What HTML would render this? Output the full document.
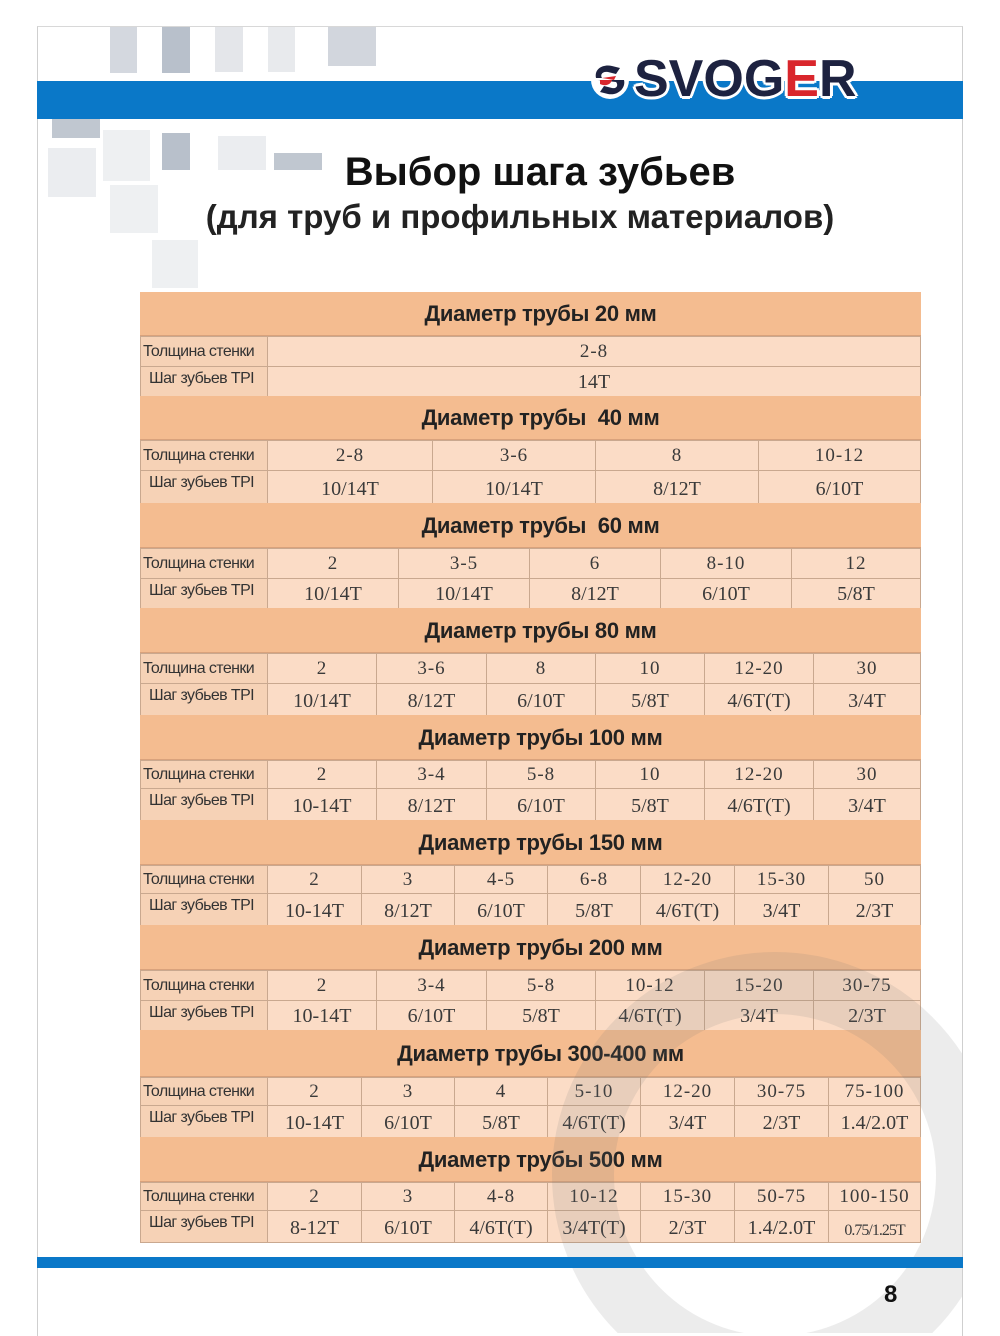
<!DOCTYPE html>
<html><head><meta charset="utf-8">
<style>
*{margin:0;padding:0;box-sizing:border-box}
body{width:1000px;height:1333px;background:#fff;position:relative;overflow:hidden;font-family:"Liberation Sans","DejaVu Sans",sans-serif}
.a{position:absolute}
.sq{position:absolute}
.sec{position:absolute;left:140px;width:781px}
.hd{background:#f4bc90;text-align:center;font-weight:bold;font-size:22px;color:#222;border-bottom:1px solid #d9a27c;padding-left:20px;letter-spacing:-0.3px}
table{border-collapse:collapse;table-layout:fixed;width:781px}
td{border:1px solid #c9a88f;background:#fbdcc6;text-align:center;font-family:"Liberation Serif",serif;font-size:19px;color:#3a3a3a;padding:0;white-space:nowrap;overflow:hidden}
tr.r1 td{vertical-align:middle;letter-spacing:1px}
tr.r2 td{vertical-align:bottom;padding-bottom:2px;font-size:20px}
table tr td.l{background:#f6d2b6;font-family:"Liberation Sans",sans-serif;font-size:16px;color:#333;text-align:left;padding-left:2px;letter-spacing:-0.6px;vertical-align:middle}
table tr.r2 td.l{vertical-align:top;padding-top:3px;padding-left:8px;font-size:16px;padding-bottom:0}
</style></head><body>
<div class="a" style="left:37px;top:26px;width:926px;height:1310px;border-left:1px solid #cfcfcf;border-top:1px solid #d8d8d8;border-right:1px solid #cfcfcf"></div>
<div class="sq" style="left:110px;top:27px;width:27px;height:46px;background:#d4d8df"></div>
<div class="sq" style="left:162px;top:27px;width:28px;height:46px;background:#b8c0cb"></div>
<div class="sq" style="left:215px;top:27px;width:28px;height:45px;background:#e4e6ea"></div>
<div class="sq" style="left:268px;top:27px;width:27px;height:45px;background:#e8eaed"></div>
<div class="sq" style="left:328px;top:27px;width:48px;height:39px;background:#d2d6dd"></div>
<div class="sq" style="left:52px;top:119px;width:48px;height:19px;background:#c0c7d0"></div>
<div class="sq" style="left:103px;top:130px;width:47px;height:51px;background:#eef0f2"></div>
<div class="sq" style="left:162px;top:133px;width:28px;height:37px;background:#b8c0cb"></div>
<div class="sq" style="left:218px;top:136px;width:48px;height:34px;background:#ebedf0"></div>
<div class="sq" style="left:274px;top:153px;width:48px;height:17px;background:#c0c7d0"></div>
<div class="sq" style="left:48px;top:148px;width:48px;height:49px;background:#ebedf0"></div>
<div class="sq" style="left:110px;top:185px;width:48px;height:48px;background:#eef0f2"></div>
<div class="sq" style="left:152px;top:240px;width:46px;height:48px;background:#eef0f2"></div>
<div class="a" style="left:37px;top:81px;width:926px;height:38px;background:#0a78c8"></div>
<svg class="a" style="left:590px;top:58px" width="40" height="44" viewBox="0 0 40 44">
<circle cx="20" cy="22" r="19" fill="#fff"/>
<path d="M6 20 C4 10 14 6 22 8 L30 10 L26 16 L18 14 C12 13 10 17 12 20 Z" fill="#1d2240"/>
<path d="M8 22 L34 22 C36 30 28 38 18 36 L10 34 L14 28 L22 30 C28 31 28 26 26 24 Z" fill="#1d2240"/>
<path d="M12 20 L26 18 L24 22 Z" fill="#d9262c"/>
<path d="M10 22 L22 22 C20 28 14 28 10 26 Z" fill="#d9262c"/>
</svg>
<div class="a" style="left:634px;top:50px;font-size:52px;font-weight:bold;color:#1d2240;line-height:58px;letter-spacing:0px;text-shadow:3px 0 #fff,-3px 0 #fff,0 3px #fff,0 -3px #fff,2px 2px #fff,-2px -2px #fff,2px -2px #fff,-2px 2px #fff">SVOG<span style="color:#d9262c">E</span>R</div>
<div class="a" style="left:0;top:150px;width:1080px;text-align:center;font-size:40px;font-weight:bold;color:#111">Выбор шага зубьев</div>
<div class="a" style="left:0;top:198px;width:1040px;text-align:center;font-size:33px;font-weight:bold;color:#222">(для труб и профильных материалов)</div>

<div class="sec" style="top:292px">
<div class="hd" style="height:44px;line-height:44px">Диаметр трубы 20 мм</div>
<table><col style="width:127px"><col>
<tr class="r1" style="height:30px"><td class="l">Толщина стенки</td><td>2-8</td></tr>
<tr class="r2" style="height:30px"><td class="l">Шаг зубьев TPI</td><td>14T</td></tr></table></div>
<div class="sec" style="top:396px">
<div class="hd" style="height:44px;line-height:44px">Диаметр трубы&nbsp; 40 мм</div>
<table><col style="width:127px"><col style="width:165px"><col style="width:163px"><col style="width:163px"><col>
<tr class="r1" style="height:30px"><td class="l">Толщина стенки</td><td>2-8</td><td>3-6</td><td>8</td><td>10-12</td></tr>
<tr class="r2" style="height:33px"><td class="l">Шаг зубьев TPI</td><td>10/14T</td><td>10/14T</td><td>8/12T</td><td>6/10T</td></tr></table></div>
<div class="sec" style="top:503px">
<div class="hd" style="height:45px;line-height:45px">Диаметр трубы&nbsp; 60 мм</div>
<table><col style="width:127px"><col style="width:131px"><col style="width:131px"><col style="width:131px"><col style="width:131px"><col>
<tr class="r1" style="height:30px"><td class="l">Толщина стенки</td><td>2</td><td>3-5</td><td>6</td><td>8-10</td><td>12</td></tr>
<tr class="r2" style="height:30px"><td class="l">Шаг зубьев TPI</td><td>10/14T</td><td>10/14T</td><td>8/12T</td><td>6/10T</td><td>5/8T</td></tr></table></div>
<div class="sec" style="top:608px">
<div class="hd" style="height:45px;line-height:45px">Диаметр трубы 80 мм</div>
<table><col style="width:127px"><col style="width:109px"><col style="width:110px"><col style="width:109px"><col style="width:109px"><col style="width:109px"><col>
<tr class="r1" style="height:30px"><td class="l">Толщина стенки</td><td>2</td><td>3-6</td><td>8</td><td>10</td><td>12-20</td><td>30</td></tr>
<tr class="r2" style="height:32px"><td class="l">Шаг зубьев TPI</td><td>10/14T</td><td>8/12T</td><td>6/10T</td><td>5/8T</td><td>4/6T(T)</td><td>3/4T</td></tr></table></div>
<div class="sec" style="top:715px">
<div class="hd" style="height:45px;line-height:45px">Диаметр трубы 100 мм</div>
<table><col style="width:127px"><col style="width:109px"><col style="width:110px"><col style="width:109px"><col style="width:109px"><col style="width:109px"><col>
<tr class="r1" style="height:28px"><td class="l">Толщина стенки</td><td>2</td><td>3-4</td><td>5-8</td><td>10</td><td>12-20</td><td>30</td></tr>
<tr class="r2" style="height:32px"><td class="l">Шаг зубьев TPI</td><td>10-14T</td><td>8/12T</td><td>6/10T</td><td>5/8T</td><td>4/6T(T)</td><td>3/4T</td></tr></table></div>
<div class="sec" style="top:820px">
<div class="hd" style="height:45px;line-height:45px">Диаметр трубы 150 мм</div>
<table><col style="width:127px"><col style="width:94px"><col style="width:93px"><col style="width:93px"><col style="width:93px"><col style="width:94px"><col style="width:94px"><col>
<tr class="r1" style="height:28px"><td class="l">Толщина стенки</td><td>2</td><td>3</td><td>4-5</td><td>6-8</td><td>12-20</td><td>15-30</td><td>50</td></tr>
<tr class="r2" style="height:32px"><td class="l">Шаг зубьев TPI</td><td>10-14T</td><td>8/12T</td><td>6/10T</td><td>5/8T</td><td>4/6T(T)</td><td>3/4T</td><td>2/3T</td></tr></table></div>
<div class="sec" style="top:925px">
<div class="hd" style="height:45px;line-height:45px">Диаметр трубы 200 мм</div>
<table><col style="width:127px"><col style="width:109px"><col style="width:110px"><col style="width:109px"><col style="width:109px"><col style="width:109px"><col>
<tr class="r1" style="height:30px"><td class="l">Толщина стенки</td><td>2</td><td>3-4</td><td>5-8</td><td>10-12</td><td>15-20</td><td>30-75</td></tr>
<tr class="r2" style="height:30px"><td class="l">Шаг зубьев TPI</td><td>10-14T</td><td>6/10T</td><td>5/8T</td><td>4/6T(T)</td><td>3/4T</td><td>2/3T</td></tr></table></div>
<div class="sec" style="top:1030px">
<div class="hd" style="height:47px;line-height:47px">Диаметр трубы 300-400 мм</div>
<table><col style="width:127px"><col style="width:94px"><col style="width:93px"><col style="width:93px"><col style="width:93px"><col style="width:94px"><col style="width:94px"><col>
<tr class="r1" style="height:28px"><td class="l">Толщина стенки</td><td>2</td><td>3</td><td>4</td><td>5-10</td><td>12-20</td><td>30-75</td><td>75-100</td></tr>
<tr class="r2" style="height:32px"><td class="l">Шаг зубьев TPI</td><td>10-14T</td><td>6/10T</td><td>5/8T</td><td>4/6T(T)</td><td>3/4T</td><td>2/3T</td><td>1.4/2.0T</td></tr></table></div>
<div class="sec" style="top:1137px">
<div class="hd" style="height:45px;line-height:45px">Диаметр трубы 500 мм</div>
<table><col style="width:127px"><col style="width:94px"><col style="width:93px"><col style="width:93px"><col style="width:93px"><col style="width:94px"><col style="width:94px"><col>
<tr class="r1" style="height:28px"><td class="l">Толщина стенки</td><td>2</td><td>3</td><td>4-8</td><td>10-12</td><td>15-30</td><td>50-75</td><td>100-150</td></tr>
<tr class="r2" style="height:32px"><td class="l">Шаг зубьев TPI</td><td>8-12T</td><td>6/10T</td><td>4/6T(T)</td><td>3/4T(T)</td><td>2/3T</td><td>1.4/2.0T</td><td style="font-size:16px;letter-spacing:-1px">0.75/1.25T</td></tr></table></div>

<svg class="a" style="left:0;top:0" width="962" height="1333">
<defs><clipPath id="c"><rect x="500" y="930" width="462" height="403"/></clipPath></defs>
<circle cx="775" cy="1175" r="192" fill="none" stroke="rgba(120,120,120,0.14)" stroke-width="62" clip-path="url(#c)"/>
</svg>
<div class="a" style="left:37px;top:1257px;width:926px;height:11px;background:#0a78c8"></div>
<div class="a" style="left:884px;top:1281px;font-size:24px;font-weight:bold;color:#111">8</div>
</body></html>
